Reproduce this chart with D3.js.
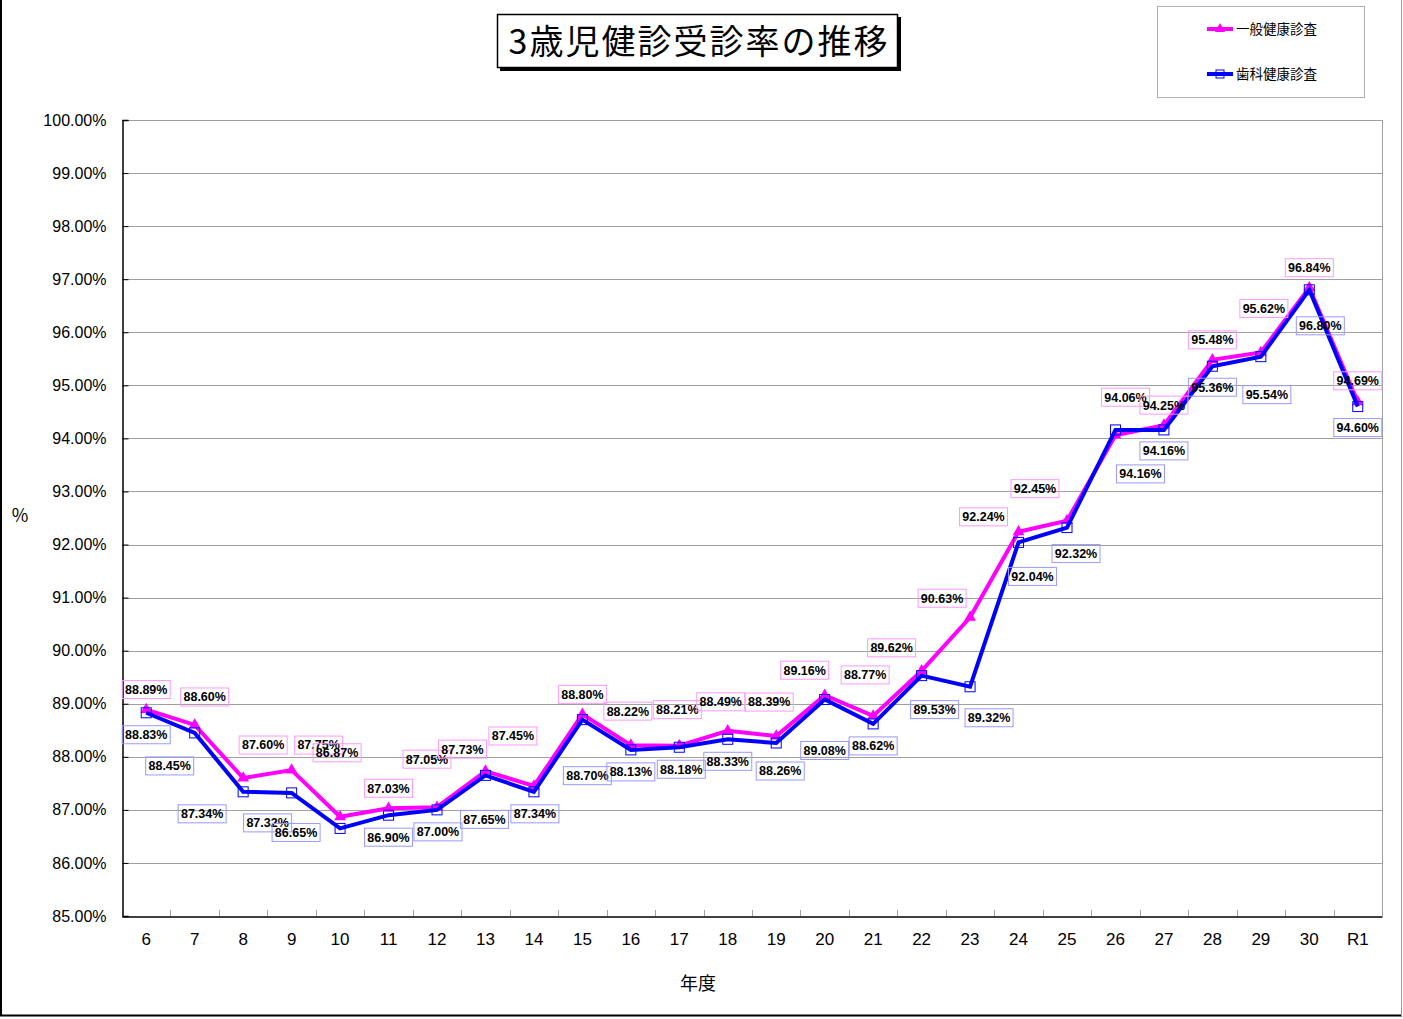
<!DOCTYPE html>
<html>
<head>
<meta charset="utf-8">
<script src="https://cdn.jsdelivr.net/npm/d3@7"></script>
<style>
  body { margin: 0; background: #fff; }
  svg { display: block; }
  text { font-family: "Liberation Sans", Arial, "Noto Sans CJK JP", sans-serif; }
  .jp { font-family: "Noto Sans CJK JP", "Liberation Sans", sans-serif; }
</style>
</head>
<body>
<div id="vis"></div>
<script>
// data (年度)
const years = ["6", "7", "8", "9", "10", "11", "12", "13", "14", "15", "16", "17", "18",
  "19", "20", "21", "22", "23", "24", "25", "26", "27", "28", "29", "30", "R1"];
const generalRate = [88.89, 88.60, 87.60, 87.75, 86.87, 87.03, 87.05, 87.73, 87.45, 88.80,
  88.22, 88.21, 88.49, 88.39, 89.16, 88.77, 89.62, 90.63, 92.24, 92.45,
  94.06, 94.25, 95.48, 95.62, 96.84, 94.69];
const dentalRate = [88.83, 88.45, 87.34, 87.32, 86.65, 86.90, 87.00, 87.65, 87.34, 88.70,
  88.13, 88.18, 88.33, 88.26, 89.08, 88.62, 89.53, 89.32, 92.04, 92.32,
  94.16, 94.16, 95.36, 95.54, 96.80, 94.60];
const yTicks = [85, 86, 87, 88, 89, 90, 91, 92, 93, 94, 95, 96, 97, 98, 99, 100];

// label nudges (as placed by hand in the original chart)
const generalLabelShift = [[0,-20],[10,-28],[20,-33],[27,-25],[-3,-64],[0,-20],[-10,-48],[-23,-22],
  [-21,-50],[0,-20],[-3,-34],[-2,-36],[-7,-29],[-7,-34],[-20,-25],[-8,-41],[-30,-23],[-28,-19],
  [-35,-15],[-32,-32],[10,-38],[0,-20],[0,-20],[3,-44],[0,-20],[0,-21]];
const dentalLabelShift = [[0,22],[-25,33],[-41,22],[-24,30],[-44,4],[0,22],[1,22],[-1,44],
  [1,22],[5,56],[0,22],[2,22],[0,22],[4,28],[0,51],[0,22],[13,34],[19,31],[14,34],[9,26],
  [25,44],[0,21],[0,21],[6,38],[11,36],[0,21]];

const W = 1403, H = 1019;
const plot = { left: 122, right: 1382, top: 120, bottom: 916 };

const svg = d3.select("#vis").append("svg").attr("width", W).attr("height", H);

// outer frame
svg.append("line").attr("x1", 1).attr("x2", 1).attr("y1", 0).attr("y2", 1016)
  .attr("stroke", "#000").attr("stroke-width", 2);
svg.append("line").attr("x1", 0).attr("x2", 1402).attr("y1", 1015.5).attr("y2", 1015.5)
  .attr("stroke", "#000").attr("stroke-width", 2);
svg.append("line").attr("x1", 1401.5).attr("x2", 1401.5).attr("y1", 0).attr("y2", 1016)
  .attr("stroke", "#999").attr("stroke-width", 1);

const x = d3.scaleBand().domain(years).range([plot.left, plot.right]);
const y = d3.scaleLinear().domain([85, 100]).range([plot.bottom, plot.top]);
const cx = d => x(d) + x.bandwidth() / 2;

// gridlines
svg.append("g").selectAll("line").data(yTicks.filter(t => t > 85)).join("line")
  .attr("x1", plot.left).attr("x2", plot.right)
  .attr("y1", d => Math.round(y(d)) + 0.5).attr("y2", d => Math.round(y(d)) + 0.5)
  .attr("stroke", "#a0a0a0").attr("stroke-width", 1);
// plot right border
svg.append("line").attr("x1", plot.right + 0.5).attr("x2", plot.right + 0.5)
  .attr("y1", plot.top).attr("y2", plot.bottom).attr("stroke", "#a0a0a0");

// y axis
const yAxis = d3.axisRight(y).tickValues(yTicks).tickSize(6).tickFormat(d => d3.format(".2f")(d) + "%");
const gy = svg.append("g").attr("transform", `translate(${plot.left + 0.5},0)`).call(yAxis);
gy.select(".domain").attr("stroke", "#000").attr("stroke-width", 1.5);
gy.selectAll(".tick line").attr("stroke", "#000");
gy.selectAll(".tick text").attr("x", -16).attr("text-anchor", "end")
  .attr("font-size", 16).attr("fill", "#000");

// x axis
const xAxis = d3.axisBottom(x).tickSize(0);
const gx = svg.append("g").attr("transform", `translate(0,${plot.bottom + 0.5})`).call(xAxis);
gx.select(".domain").attr("stroke", "#000").attr("stroke-width", 1.5);
gx.selectAll(".tick text").attr("y", 16).attr("font-size", 17).attr("fill", "#000");
// category separator ticks
svg.append("g").selectAll("line").data(years.slice(1)).join("line")
  .attr("x1", d => Math.round(x(d)) + 0.5).attr("x2", d => Math.round(x(d)) + 0.5)
  .attr("y1", plot.bottom - 6).attr("y2", plot.bottom)
  .attr("stroke", "#a0a0a0");

// axis titles
svg.append("text").attr("class", "jp").attr("x", 20).attr("y", 522)
  .attr("text-anchor", "middle").attr("font-size", 18).text("%");
svg.append("text").attr("class", "jp").attr("x", 698).attr("y", 990)
  .attr("text-anchor", "middle").attr("font-size", 18).text("年度");

// series
const series = [
  { name: "一般健康診査", values: generalRate, color: "#ff00ff", boxColor: "#ff99ff", marker: "triangle", shift: generalLabelShift },
  { name: "歯科健康診査", values: dentalRate, color: "#0000ff", boxColor: "#9999ff", marker: "square", shift: dentalLabelShift }
];

const line = d3.line().x((d, i) => cx(years[i])).y(d => y(d));

series.forEach(s => {
  const g = svg.append("g");
  g.append("path").datum(s.values).attr("d", line)
    .attr("fill", "none").attr("stroke", s.color).attr("stroke-width", 4)
    .attr("stroke-linejoin", "miter");
  if (s.marker === "triangle") {
    g.selectAll("path.m").data(s.values).join("path").attr("class", "m")
      .attr("d", d3.symbol(d3.symbolTriangle, 60))
      .attr("transform", (d, i) => `translate(${cx(years[i])},${y(d)})`)
      .attr("fill", s.color);
  } else {
    g.selectAll("rect.m").data(s.values).join("rect").attr("class", "m")
      .attr("x", (d, i) => cx(years[i]) - 5).attr("y", d => y(d) - 5)
      .attr("width", 10).attr("height", 10)
      .attr("fill", "none").attr("stroke", s.color).attr("stroke-width", 1);
  }
});

// data labels
series.forEach(s => {
  const g = svg.append("g");
  const lab = g.selectAll("g").data(s.values).join("g")
    .attr("transform", (d, i) => `translate(${cx(years[i]) + s.shift[i][0]},${y(d) + s.shift[i][1]})`);
  lab.append("rect").attr("x", -24).attr("y", -9).attr("width", 48).attr("height", 18)
    .attr("fill", "none").attr("stroke", s.boxColor).attr("stroke-width", 1);
  lab.append("text").attr("text-anchor", "middle").attr("dy", "0.35em")
    .attr("font-size", 12.5).attr("font-weight", "bold").attr("fill", "#000")
    .text(d => d3.format(".2f")(d) + "%");
});

// title
const tg = svg.append("g");
tg.append("rect").attr("x", 500).attr("y", 17).attr("width", 401).attr("height", 54).attr("fill", "#000");
tg.append("rect").attr("x", 497.5).attr("y", 14.5).attr("width", 400).attr("height", 53)
  .attr("fill", "#fff").attr("stroke", "#000").attr("stroke-width", 1.5);
tg.append("text").attr("class", "jp").attr("x", 699).attr("y", 54)
  .attr("text-anchor", "middle").attr("font-size", 34).attr("letter-spacing", 2)
  .text("3歳児健診受診率の推移");

// legend
const lg = svg.append("g");
lg.append("rect").attr("x", 1157.5).attr("y", 6.5).attr("width", 207).attr("height", 91)
  .attr("fill", "#fff").attr("stroke", "#b0b0b0");
series.forEach((s, i) => {
  const ly = 29 + i * 45;
  lg.append("line").attr("x1", 1207).attr("x2", 1233).attr("y1", ly).attr("y2", ly)
    .attr("stroke", s.color).attr("stroke-width", 4);
  if (s.marker === "triangle") {
    lg.append("path").attr("d", d3.symbol(d3.symbolTriangle, 45))
      .attr("transform", `translate(1220,${ly})`).attr("fill", s.color);
  } else {
    lg.append("rect").attr("x", 1216).attr("y", ly - 4).attr("width", 8).attr("height", 8)
      .attr("fill", "none").attr("stroke", s.color);
  }
  lg.append("text").attr("class", "jp").attr("x", 1236).attr("y", ly + 5)
    .attr("font-size", 13.5).text(s.name);
});
</script>
</body>
</html>
